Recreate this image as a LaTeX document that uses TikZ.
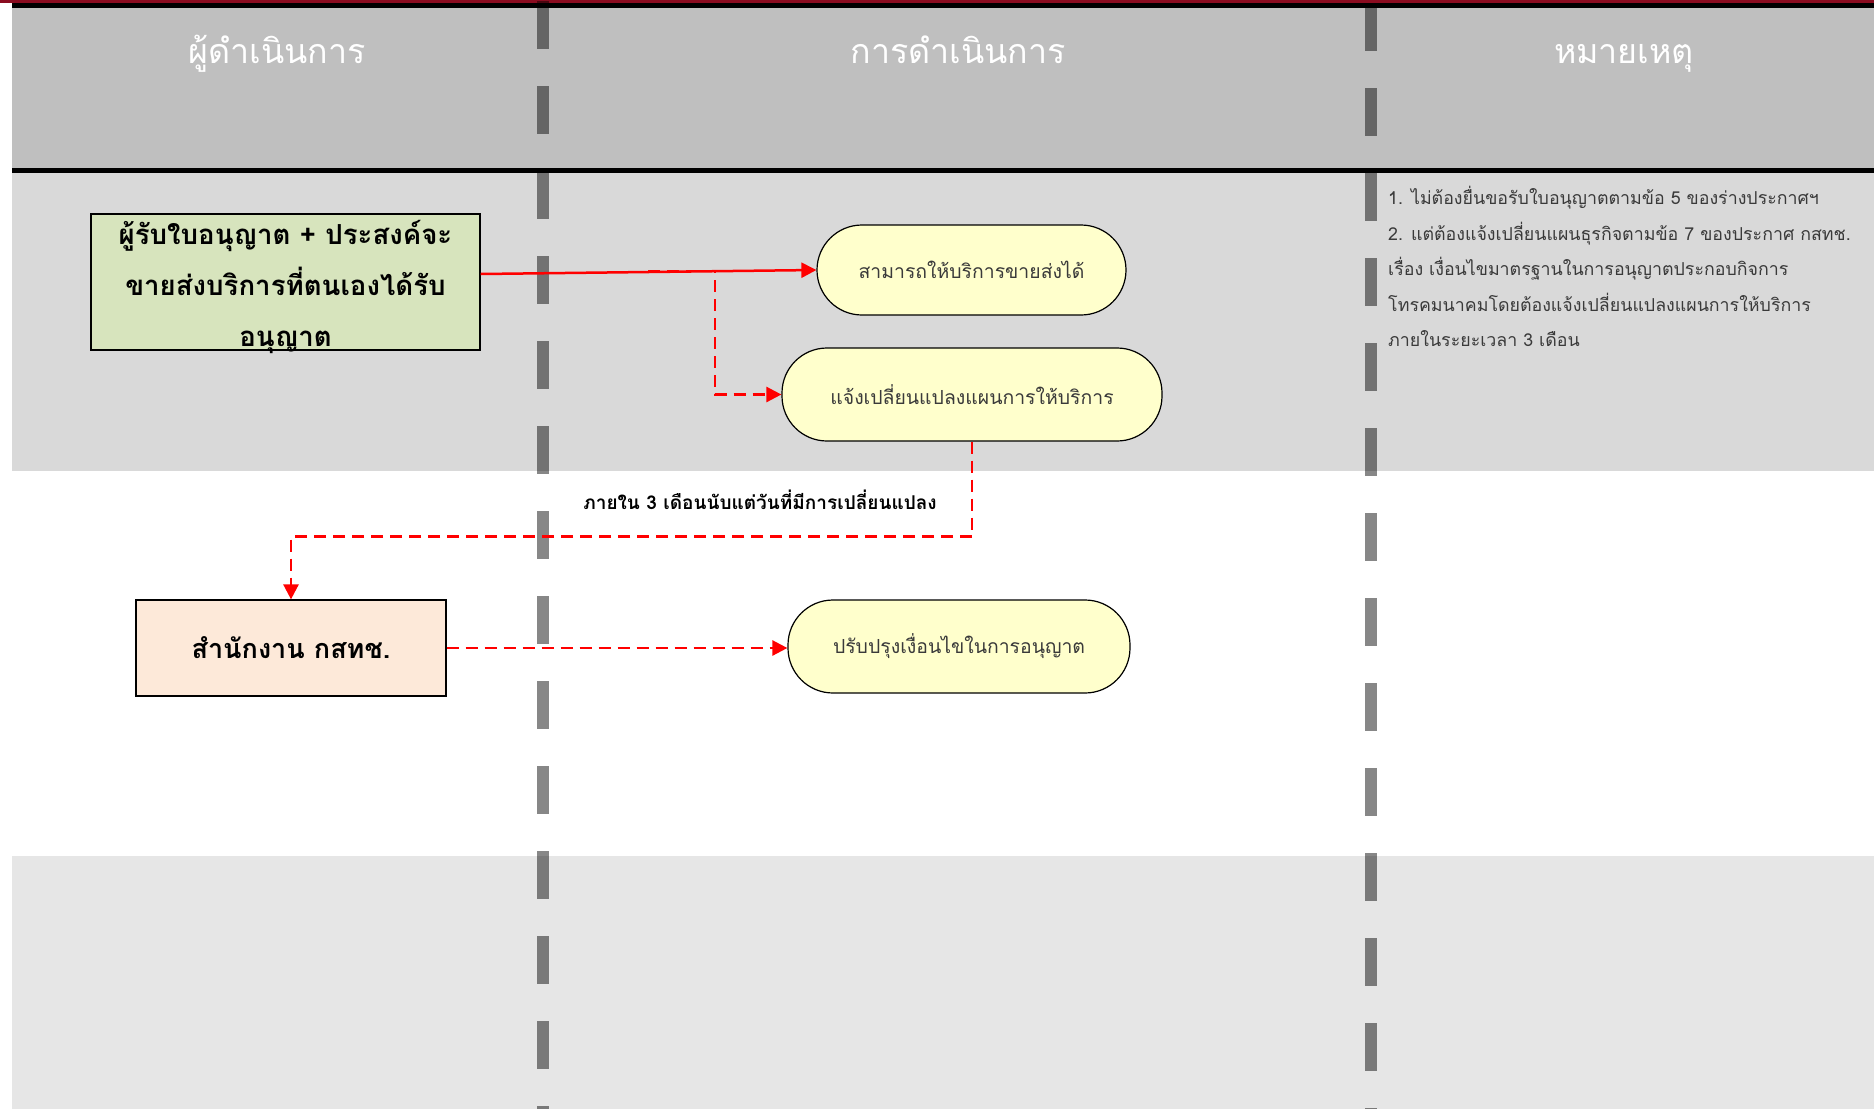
\documentclass[tikz,border=0pt]{standalone}
\usepackage{fontspec}
\setmainfont[Script=Thai]{Loma}
\usetikzlibrary{arrows.meta,positioning,calc}

\definecolor{bandred}{HTML}{8A0C20}
\definecolor{headgray}{HTML}{BFBFBF}
\definecolor{lanegray}{HTML}{D9D9D9}
\definecolor{lanelight}{HTML}{E6E6E6}
\definecolor{actgreen}{HTML}{D7E4BD}
\definecolor{officepeach}{HTML}{FDE9D9}
\definecolor{taskyellow}{HTML}{FFFFCC}
\definecolor{notegray}{HTML}{3A3A3A}

\begin{document}
\begin{tikzpicture}[%
          x=1pt, y=-1pt,
          divider/.style={draw=black, draw opacity=0.47, line width=12pt, dash pattern=on 48pt off 37pt},
          head/.style={text=white, anchor=base, font=\fontsize{34}{40}\selectfont},
          actor/.style={draw=black, line width=1.2pt, inner sep=0pt},
          actortext/.style={align=center, font=\bfseries\fontsize{27.6}{51}\selectfont},
          task/.style={draw=black, line width=1.2pt, fill=taskyellow, text=notegray,
                       rounded corners=45pt, inner sep=0pt, font=\fontsize{19.4}{24}\selectfont},
          flow/.style={draw=red, line width=2.5pt, -{Triangle[length=15pt,width=15pt]}},
          dflow/.style={flow, dash pattern=on 12pt off 7pt}]

  \useasboundingbox (0,0) rectangle (1874,1109);

  \fill[bandred] (0,0) rectangle (1874,3);
  \fill[black] (12,3) rectangle (1874,8);
  \fill[headgray] (12,8) rectangle (1874,168);
  \fill[black] (12,168) rectangle (1874,173);
  \fill[lanegray] (12,173) rectangle (1874,471);
  \fill[white] (12,471) rectangle (1874,856);
  \fill[lanelight] (12,856) rectangle (1874,1109);

  \draw[divider] (543,1) -- (543,1109);
  \draw[divider] (1371,3) -- (1371,1109);

  \node[head] (hactor) at (277,63) {ผู้ดำเนินการ};
  \node[head] (hstep) at (958,63) {การดำเนินการ};
  \node[head] (hnote) at (1624,63) {หมายเหตุ};

  \node[actor, fill=actgreen, minimum width=389, minimum height=136,
        label={[actortext, yshift=-5pt]center:ผู้รับใบอนุญาต + ประสงค์จะ\\ขายส่งบริการที่ตนเองได้รับ\\อนุญาต}]
        (licensee) at (285.5,282) {};
  \node[actor, fill=officepeach, minimum width=310, minimum height=96,
        font=\bfseries\fontsize{27}{30}\selectfont] (office) at (291,648) {สำนักงาน กสทช.};

  \node[task, minimum width=309, minimum height=90] (sell) at (971.5,270) {สามารถให้บริการขายส่งได้};
  \node[task, minimum width=380, minimum height=93] (notify) at (972,394.5) {แจ้งเปลี่ยนแปลงแผนการให้บริการ};
  \node[task, minimum width=342, minimum height=93] (revise) at (959,646.5) {ปรับปรุงเงื่อนไขในการอนุญาต};

  \node[font=\bfseries\fontsize{19}{22}\selectfont] (within) at (760,500) {ภายใน 3 เดือนนับแต่วันที่มีการเปลี่ยนแปลง};

  \node[anchor=north west, align=left, inner sep=0pt, text=notegray,
        font=\fontsize{17.8}{35.5}\selectfont] (remarks) at (1388,186)
        {1. ไม่ต้องยื่นขอรับใบอนุญาตตามข้อ 5 ของร่างประกาศฯ\\
         2. แต่ต้องแจ้งเปลี่ยนแผนธุรกิจตามข้อ 7 ของประกาศ กสทช.\\
         เรื่อง เงื่อนไขมาตรฐานในการอนุญาตประกอบกิจการ\\
         โทรคมนาคมโดยต้องแจ้งเปลี่ยนแปลงแผนการให้บริการ\\
         ภายในระยะเวลา 3 เดือน};

  \coordinate (splitstart) at (648,271);
  \coordinate (split) at (715,271);

  \draw[dflow] (splitstart) -- (split) |- (notify.west);
  \draw[flow] ([yshift=8pt]licensee.east) -- (sell.west);
  \draw[dflow] (notify.south) -- ++(0,95) -| (office.north);
  \draw[dflow] (office.east) -- (office.east -| revise.west);

\end{tikzpicture}
\end{document}
